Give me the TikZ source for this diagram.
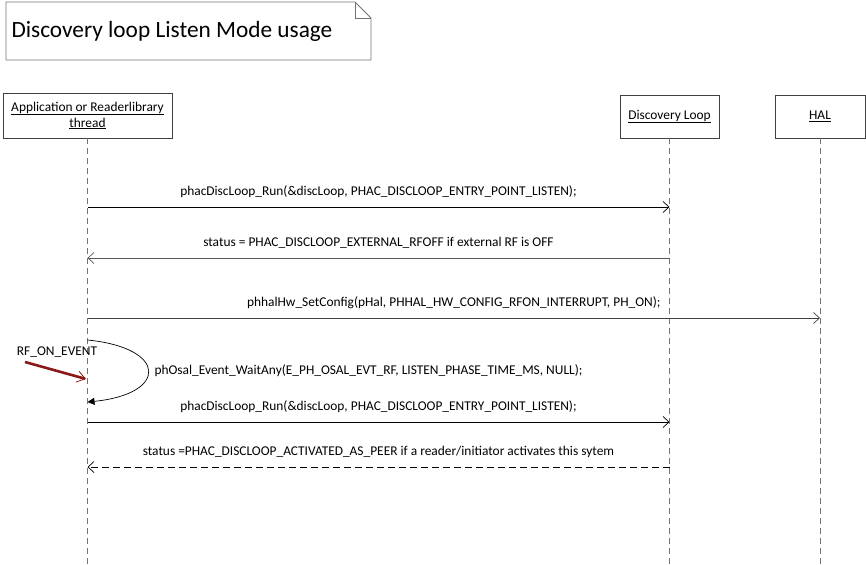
\documentclass[tikz,border=0pt]{standalone}
\usepackage{fontspec}
\setmainfont{Carlito}
\usetikzlibrary{arrows.meta}
\tikzset{
  lifebox/.style={draw=black!75,line width=0.8pt,align=center,inner sep=2pt,font=\fontsize{13.4}{16}\selectfont},
  lifeline/.style={draw=black!55,line width=0.9pt,dash pattern=on 6pt off 4pt},
  msg/.style={line width=0.7pt,-{Straight Barb[length=6pt,width=11pt]}},
  lbl/.style={font=\fontsize{13.4}{16}\selectfont,above=6pt},
}
\begin{document}
\begin{tikzpicture}[x=1pt,y=-1pt]
            \useasboundingbox (0,0) rectangle (866,564);
            % title note
            \draw[draw=black!55,line width=0.8pt] (6,2) -- (355,2) -- (371,18) -- (371,60) -- (6,60) -- cycle;
            \draw[draw=black!55,line width=0.8pt] (355,2) -- (355,18) -- (371,18);
            \node[anchor=west,font=\fontsize{23.3}{28}\selectfont] (title) at (8,31) {Discovery loop Listen Mode usage};

            % lifelines
            \node[lifebox,minimum width=169pt,minimum height=45pt] (app) at (87.5,115.5) {\underline{Application or Readerlibrary}\\ \underline{thread}};
            \node[lifebox,minimum width=99pt,minimum height=43pt] (disc) at (669.5,116.5) {\underline{Discovery Loop}};
            \node[lifebox,minimum width=90pt,minimum height=43pt] (hal) at (820,116.5) {\underline{HAL}};

            \draw[lifeline] (app.south) -- (app.south |- 0,564);
            \draw[lifeline] (disc.south) -- (disc.south |- 0,564);
            \draw[lifeline] (hal.south) -- (hal.south |- 0,564);

            % messages
            \draw[msg] (app |- 0,207) -- node[lbl] {phacDiscLoop\_Run(\&discLoop, PHAC\_DISCLOOP\_ENTRY\_POINT\_LISTEN);} (disc |- 0,207);
            \draw[msg,draw=black!65] (disc |- 0,258) -- node[lbl] {status = PHAC\_DISCLOOP\_EXTERNAL\_RFOFF if external RF is OFF} (app |- 0,258);
            \draw[msg,draw=black!75] (app |- 0,318) -- node[lbl] {phhalHw\_SetConfig(pHal, PHHAL\_HW\_CONFIG\_RFON\_INTERRUPT, PH\_ON);} (hal |- 0,318);

            \draw[line width=0.7pt,-{Triangle[length=7pt,width=7pt]}] (app |- 0,340) .. controls (168,348) and (168,394) .. (app |- 0,402);
            \node[anchor=west,font=\fontsize{13.4}{16}\selectfont] (wait) at (151,371) {phOsal\_Event\_WaitAny(E\_PH\_OSAL\_EVT\_RF, LISTEN\_PHASE\_TIME\_MS, NULL);};

            \node[font=\fontsize{13.4}{16}\selectfont] (rfon) at (57,352) {RF\_ON\_EVENT};
            \coordinate (rfstart) at (25,362);
            \draw[draw=red!50!black!90,line width=2.6pt,-{Straight Barb[line width=0.8pt,length=8pt,width=11pt]}] (rfstart) -- (86,379);

            \draw[msg] (app |- 0,422) -- node[lbl] {phacDiscLoop\_Run(\&discLoop, PHAC\_DISCLOOP\_ENTRY\_POINT\_LISTEN);} (disc |- 0,422);
            \draw[msg,dash pattern=on 7pt off 4pt] (disc |- 0,467) -- node[lbl] {status =PHAC\_DISCLOOP\_ACTIVATED\_AS\_PEER if a reader/initiator activates this sytem} (app |- 0,467);
        \end{tikzpicture}
\end{document}
